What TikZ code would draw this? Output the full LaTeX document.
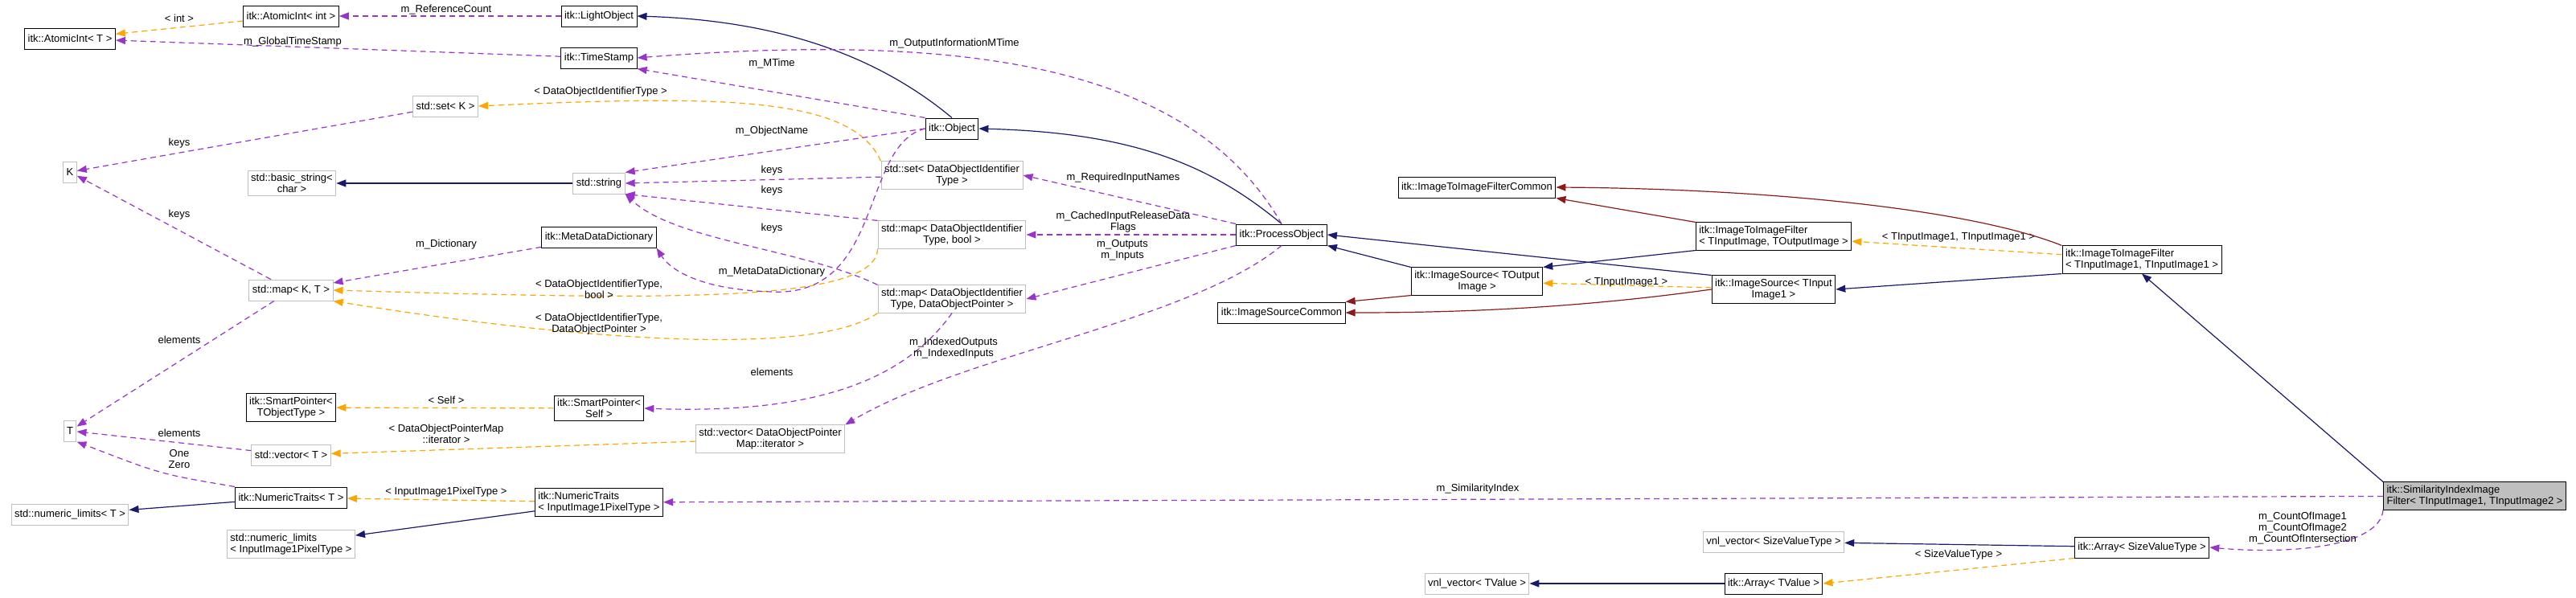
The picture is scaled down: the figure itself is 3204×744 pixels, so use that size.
\documentclass[tikz,border=0pt]{standalone}
\usepackage{fontspec}
\setmainfont{Liberation Sans}
\usetikzlibrary{arrows.meta}
\definecolor{inhcol}{HTML}{191970}
\definecolor{protcol}{HTML}{8B1A1A}
\definecolor{usecol}{HTML}{9A32CD}
\definecolor{tmplcol}{HTML}{FFA500}
\definecolor{greybox}{HTML}{BFBFBF}

\tikzset{
  box/.style={draw=black, line width=1pt, fill=white, inner sep=4pt,
    minimum height=26pt, align=center, font=\fontsize{13}{14}\selectfont},
  gbox/.style={box, draw=greybox},
  lbl/.style={font=\fontsize{13}{14}\selectfont, align=center, inner sep=1pt},
  tip/.style={-{Triangle[length=12pt,width=9pt]}},
  inh/.style={tip, draw=inhcol, line width=1.2pt},
  prot/.style={tip, draw=protcol, line width=1.2pt},
  use/.style={tip, draw=usecol, line width=1.2pt, dash pattern=on 7pt off 5pt},
  tmpl/.style={tip, draw=tmplcol, line width=1.2pt, dash pattern=on 7pt off 5pt}
}

\begin{document}
\begin{tikzpicture}[x=1pt,y=-1pt]
  \useasboundingbox (0,0) rectangle (3204,744);

  % left column
  \node[box] (atomicT) at (87,48) {itk::AtomicInt< T >};
  \node[gbox] (keyK) at (87,214) {K};
  \node[gbox] (elemT) at (87,536) {T};
  \node[gbox] (numlimT) at (87,640) {std::numeric\_limits< T >};

  % second column
  \node[box] (atomicInt) at (362,20) {itk::AtomicInt< int >};
  \node[gbox] (setK) at (554,132) {std::set< K >};
  \node[gbox] (basicStr) at (363,228) {std::basic\_string<\\char >};
  \node[gbox] (mapKT) at (362,361) {std::map< K, T >};
  \node[box] (smartTObj) at (362,507) {itk::SmartPointer<\\TObjectType >};
  \node[gbox] (vectorT) at (362,566) {std::vector< T >};
  \node[box] (numTraitsT) at (362,619) {itk::NumericTraits< T >};
  \node[gbox, align=left] (numlimIn) at (362,677) {std::numeric\_limits\\< InputImage1PixelType >};

  % third column
  \node[box] (lightObj) at (745,20) {itk::LightObject};
  \node[box] (timeStamp) at (745,72) {itk::TimeStamp};
  \node[gbox] (stdString) at (745,228) {std::string};
  \node[box] (metaDict) at (745,295) {itk::MetaDataDictionary};
  \node[box] (smartSelf) at (745,508) {itk::SmartPointer<\\Self >};
  \node[box, align=left] (numTraitsIn) at (745,625) {itk::NumericTraits\\< InputImage1PixelType >};

  % fourth column
  \node[box] (object) at (1184,160) {itk::Object};
  \node[gbox] (setDOI) at (1184,218) {std::set< DataObjectIdentifier\\Type >};
  \node[gbox] (mapBool) at (1184,292) {std::map< DataObjectIdentifier\\Type, bool >};
  \node[gbox] (mapPtr) at (1184,372) {std::map< DataObjectIdentifier\\Type, DataObjectPointer >};
  \node[gbox] (vectorDOPM) at (958,546) {std::vector< DataObjectPointer\\Map::iterator >};

  % pipeline
  \node[box] (procObj) at (1594,292) {itk::ProcessObject};
  \node[box] (srcCommon) at (1594,389) {itk::ImageSourceCommon};
  \node[box] (filterCommon) at (1837,233) {itk::ImageToImageFilterCommon};
  \node[box] (srcOut) at (1837,350) {itk::ImageSource< TOutput\\Image >};
  \node[gbox] (vnlTValue) at (1837,726) {vnl\_vector< TValue >};
  \node[box, align=left] (filterInOut) at (2206,294) {itk::ImageToImageFilter\\< TInputImage, TOutputImage >};
  \node[box] (srcIn1) at (2206,360) {itk::ImageSource< TInput\\Image1 >};
  \node[gbox] (vnlSize) at (2206,674) {vnl\_vector< SizeValueType >};
  \node[box] (arrayTValue) at (2206,726) {itk::Array< TValue >};
  \node[box, align=left] (filterIn1) at (2664,323) {itk::ImageToImageFilter\\< TInputImage1, TInputImage1 >};
  \node[box] (arraySize) at (2664,681) {itk::Array< SizeValueType >};
  \node[box, fill=greybox, align=left] (simFilter) at (3078,617) {itk::SimilarityIndexImage\\Filter< TInputImage1, TInputImage2 >};

  % left part connectors
  \draw[tmpl] (atomicInt) -- (atomicT);
  \node[lbl] at (223,23) {< int >};
  \draw[use] (lightObj) -- (atomicInt);
  \node[lbl] at (555,12) {m\_ReferenceCount};
  \draw[use] (timeStamp) -- (atomicT);
  \node[lbl] at (364,52) {m\_GlobalTimeStamp};
  \draw[use] (setK) -- (keyK);
  \node[lbl] at (223,178) {keys};
  \draw[use] (mapKT) -- (keyK);
  \node[lbl] at (223,267) {keys};
  \draw[use] (mapKT) -- (elemT);
  \node[lbl] at (223,423) {elements};
  \draw[use] (vectorT) -- (elemT);
  \node[lbl] at (223,539) {elements};
  \draw[use] (numTraitsT.north west) .. controls (200,590) .. (elemT.south east);
  \node[lbl] at (223,571) {One\\Zero};
  \draw[inh] (numTraitsT) -- (numlimT);
  \draw[inh] (stdString) -- (basicStr);
  \draw[use] (metaDict) -- (mapKT);
  \node[lbl] at (555,304) {m\_Dictionary};
  \draw[tmpl] (mapBool.south west) .. controls (1090,380) and (800,372) .. (mapKT.east);
  \node[lbl] at (745,360) {< DataObjectIdentifierType,\\bool >};
  \draw[tmpl] (mapPtr.south west) .. controls (1020,440) and (760,430) .. (mapKT.south east);
  \node[lbl] at (745,403) {< DataObjectIdentifierType,\\DataObjectPointer >};
  \draw[tmpl] (setDOI.north west) .. controls (1060,120) and (900,118) .. (setK.east);
  \node[lbl] at (747,114) {< DataObjectIdentifierType >};
  \draw[tmpl] (smartSelf) -- (smartTObj);
  \node[lbl] at (555,498) {< Self >};
  \draw[tmpl] (vectorDOPM) -- (vectorT);
  \node[lbl] at (555,540) {< DataObjectPointerMap\\::iterator >};
  \draw[tmpl] (numTraitsIn) -- (numTraitsT);
  \node[lbl] at (555,612) {< InputImage1PixelType >};
  \draw[inh] (numTraitsIn) -- (numlimIn);

  % object connectors
  \draw[inh] (object.north) .. controls (1080,60) and (950,25) .. (lightObj.east);
  \draw[use] (object.north west) -- (timeStamp.south east);
  \node[lbl] at (960,79) {m\_MTime};
  \draw[use] (object.west) -- (stdString.north east);
  \node[lbl] at (960,163) {m\_ObjectName};
  \draw[use] (object.west) .. controls (1070,180) and (1100,370) .. (960,363)
    .. controls (860,360) and (830,330) .. (metaDict.south east);
  \node[lbl] at (960,338) {m\_MetaDataDictionary};
  \draw[use] (setDOI) -- (stdString.east);
  \node[lbl] at (960,212) {keys};
  \draw[use] (mapBool.north west) -- (stdString.south east);
  \node[lbl] at (960,237) {keys};
  \draw[use] (mapPtr.north west) .. controls (1000,310) and (840,300) .. (stdString.south east);
  \node[lbl] at (960,284) {keys};
  \draw[use] (mapPtr.south) .. controls (1120,480) and (1000,515) .. (smartSelf.east);
  \node[lbl] at (960,463) {elements};

  % process object connectors
  \draw[inh] (procObj.north) .. controls (1500,200) and (1400,165) .. (object.east);
  \draw[use] (procObj.north) .. controls (1480,80) and (1200,40) .. (timeStamp.east);
  \node[lbl] at (1187,54) {m\_OutputInformationMTime};
  \draw[use] (procObj.north west) -- (setDOI.east);
  \node[lbl] at (1397,221) {m\_RequiredInputNames};
  \draw[use] (procObj) -- (mapBool);
  \node[lbl] at (1397,276) {m\_CachedInputReleaseData\\Flags};
  \draw[use] (procObj.south west) -- (mapPtr.east);
  \node[lbl] at (1396,311) {m\_Outputs\\m\_Inputs};
  \draw[use] (procObj.south) .. controls (1480,400) and (1200,440) .. (vectorDOPM.north east);
  \node[lbl] at (1186,433) {m\_IndexedOutputs\\m\_IndexedInputs};

  % image source and filter connectors
  \draw[inh] (srcOut.north west) -- (procObj.south east);
  \draw[prot] (srcOut.south west) -- (srcCommon.north east);
  \draw[inh] (srcIn1.north west) -- (procObj.east);
  \draw[prot] (srcIn1.west) .. controls (1950,385) and (1800,389) .. (srcCommon.east);
  \draw[tmpl] (srcIn1) -- (srcOut);
  \node[lbl] at (2023,351) {< TInputImage1 >};
  \draw[inh] (filterInOut.south west) -- (srcOut.north east);
  \draw[prot] (filterInOut.north west) -- (filterCommon.south east);
  \draw[tmpl] (filterIn1) -- (filterInOut);
  \node[lbl] at (2436,295) {< TInputImage1, TInputImage1 >};
  \draw[prot] (filterIn1.north west) .. controls (2450,260) and (2200,235) .. (filterCommon.east);
  \draw[inh] (filterIn1.south west) -- (srcIn1.east);
  \draw[inh] (simFilter.north west) -- (filterIn1.south);
  \draw[use] (simFilter) -- (numTraitsIn);
  \node[lbl] at (1838,608) {m\_SimilarityIndex};
  \draw[use] (simFilter.south west) .. controls (2960,680) and (2850,690) .. (arraySize.east);
  \node[lbl] at (2864,657) {m\_CountOfImage1\\m\_CountOfImage2\\m\_CountOfIntersection};
  \draw[inh] (arraySize) -- (vnlSize);
  \draw[tmpl] (arraySize.south west) -- (arrayTValue.east);
  \node[lbl] at (2436,690) {< SizeValueType >};
  \draw[inh] (arrayTValue) -- (vnlTValue);
\end{tikzpicture}
\end{document}
